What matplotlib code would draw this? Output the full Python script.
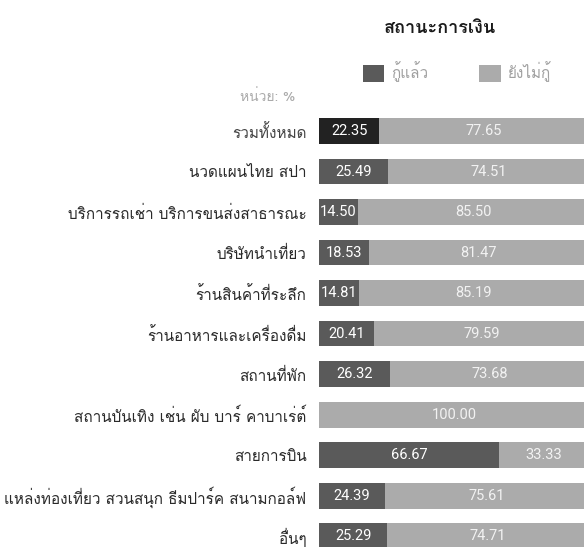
import numpy as np
import matplotlib.pyplot as plt
from matplotlib import font_manager
from matplotlib.ft2font import FT2Font
from matplotlib.patches import Patch

categories = [
    "รวมทั้งหมด",
    "นวดแผนไทย สปา",
    "บริการรถเช่า บริการขนส่งสาธารณะ",
    "บริษัทนำเที่ยว",
    "ร้านสินค้าที่ระลึก",
    "ร้านอาหารและเครื่องดื่ม",
    "สถานที่พัก",
    "สถานบันเทิง เช่น ผับ บาร์ คาบาเร่ต์",
    "สายการบิน",
    "แหล่งท่องเที่ยว สวนสนุก ธีมปาร์ค สนามกอล์ฟ",
    "อื่นๆ",
]
borrowed = [22.35, 25.49, 14.50, 18.53, 14.81, 20.41, 26.32, 0.00, 66.67, 24.39, 25.29]
not_borrowed = [77.65, 74.51, 85.50, 81.47, 85.19, 79.59, 73.68, 100.00, 33.33, 75.61, 74.71]
series_names = ["กู้แล้ว", "ยังไม่กู้"]
title = "สถานะการเงิน"
unit_label = "หน่วย: %"


def find_thai_font():
    # pick the first installed font that actually has Thai glyphs
    for f in font_manager.fontManager.ttflist:
        try:
            cmap = FT2Font(f.fname).get_charmap()
        except Exception:
            continue
        if 0x0E01 in cmap and 0x0E49 in cmap:
            return f.name
    return None


thai = find_thai_font()
plt.rcParams["font.family"] = [thai, "DejaVu Sans"] if thai else ["DejaVu Sans"]

W, H = 584, 547
fig = plt.figure(figsize=(W / 100, H / 100), dpi=100)
ax_left = 319 / W
ax_top_px = 110.75
ax = fig.add_axes([ax_left, 0, 1 - ax_left, (H - ax_top_px) / H])

y = np.arange(len(categories))
dark = ["#222222"] + ["#5a5a5a"] * (len(categories) - 1)
light = "#ababab"
h = 0.64

ax.barh(y, borrowed, height=h, color=dark)
ax.barh(y, not_borrowed, left=borrowed, height=h, color=light)

for i in range(len(categories)):
    if borrowed[i] > 0:
        ax.text(borrowed[i] / 2, y[i], f"{borrowed[i]:.2f}", ha="center", va="center",
                color="white", fontsize=10.5, family="Roboto")
    ax.text(borrowed[i] + not_borrowed[i] / 2, y[i], f"{not_borrowed[i]:.2f}", ha="center",
            va="center", color="#f2f2f2", fontsize=10.5, family="Roboto")

ax.set_xlim(0, 98.2)
ax.set_ylim(10.27, -0.5)
ax.set_yticks(y)
ax.set_yticklabels(categories, fontsize=11, color="#2a2a2a")
ax.get_yticklabels()[0].set_color("#444444")
ax.tick_params(axis="y", length=0, pad=9)
ax.set_xticks([])
for s in ax.spines.values():
    s.set_visible(False)

fig.text(440 / W, 1 - 28 / H, title, ha="center", va="center", fontsize=13,
         color="#1a1a1a", weight="bold")
fig.text(295 / W, 1 - 97 / H, unit_label, ha="right", va="center", fontsize=10, color="#aaaaaa")

handles = [Patch(facecolor="#5a5a5a"), Patch(facecolor=light)]
fig.legend(handles, series_names, loc="center", bbox_to_anchor=(457 / W, 1 - 72 / H),
           ncol=2, frameon=False, handlelength=1.4, handleheight=1.4, columnspacing=3.3,
           handletextpad=0.5, fontsize=11, labelcolor="#a0a0a0")

fig.savefig("out.png", dpi=100)
